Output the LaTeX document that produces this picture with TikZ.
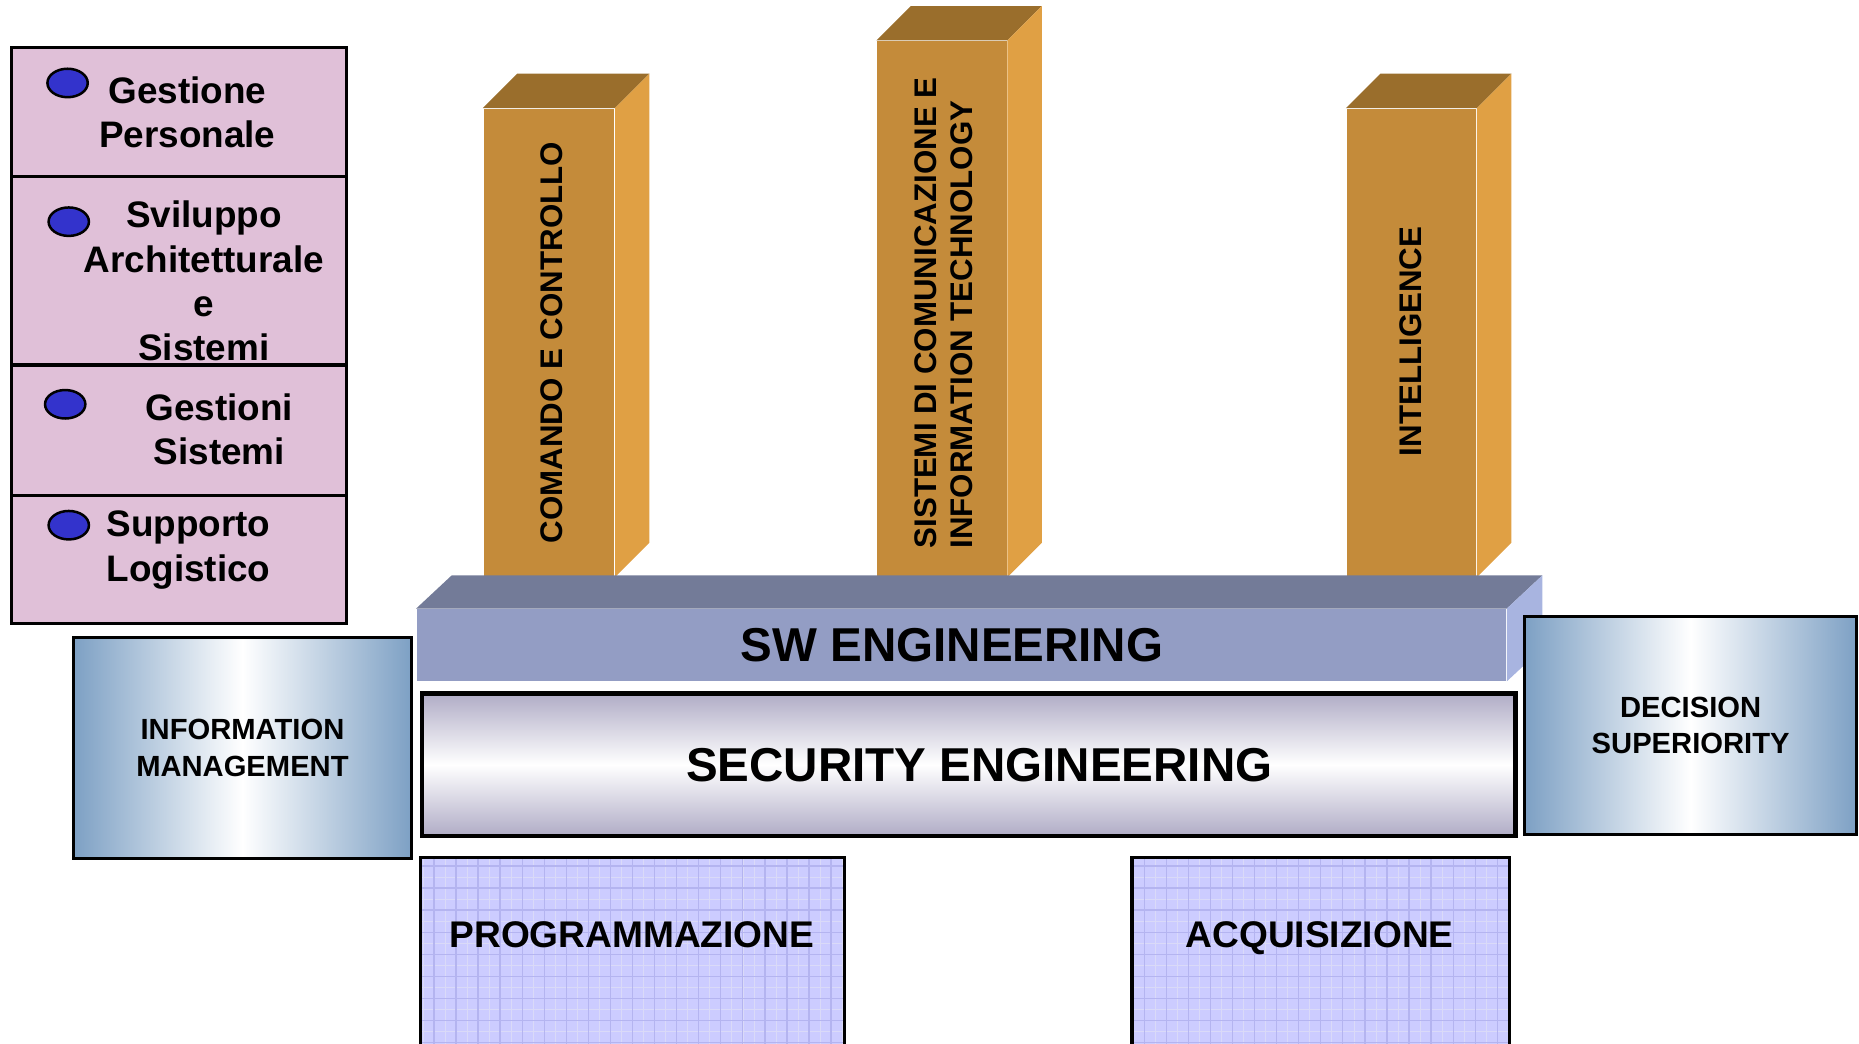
\documentclass[tikz,border=0pt]{standalone}
\usepackage{fontspec}
\setmainfont{Liberation Sans}
\usepackage{tikz}
\usetikzlibrary{shapes.geometric, positioning, calc}
\definecolor{panelpink}{RGB}{224,192,216}
\definecolor{bulletblue}{RGB}{51,51,204}
\definecolor{pillarfront}{RGB}{196,139,58}
\definecolor{pillartop}{RGB}{154,110,44}
\definecolor{pillarside}{RGB}{224,160,68}
\definecolor{slabfront}{RGB}{147,157,196}
\definecolor{slabtop}{RGB}{115,123,152}
\definecolor{slabside}{RGB}{168,180,224}
\definecolor{steel}{RGB}{125,160,196}
\definecolor{secgray}{RGB}{176,172,198}
\definecolor{gridfill}{RGB}{204,204,255}
\definecolor{gridline}{RGB}{180,180,240}
\tikzstyle{panel} = [rectangle, minimum width=2.82cm, draw=black, line width=0.8pt, fill=panelpink, inner sep=0pt]
\tikzstyle{bullet} = [ellipse, minimum width=0.34cm, minimum height=0.24cm, draw=black, line width=0.6pt, fill=bulletblue, inner sep=0pt]
\tikzstyle{paneltext} = [align=center, inner sep=0pt, font=\fontsize{8.85}{10.6}\selectfont\bfseries]
\tikzstyle{pillar} = [rectangle, minimum width=1.1cm, fill=pillarfront, inner sep=0pt]
\tikzstyle{pillartext} = [rotate=90, align=left, inner sep=0pt, font=\fontsize{7.5}{8.8}\selectfont\bfseries]
\tikzstyle{slab} = [rectangle, minimum width=9.18cm, minimum height=0.6cm, fill=slabfront, inner sep=0pt]
\tikzstyle{bigtext} = [inner sep=0pt, font=\fontsize{11.4}{13}\selectfont\bfseries]
\tikzstyle{secbox} = [rectangle, minimum width=9.22cm, minimum height=1.2cm, draw=black, line width=1pt, top color=secgray, bottom color=secgray, middle color=white, inner sep=0pt]
\tikzstyle{bluebox} = [rectangle, draw=black, line width=0.8pt, left color=steel, right color=steel, middle color=white, align=center, inner sep=0pt, font=\fontsize{7}{8.8}\selectfont\bfseries]
\tikzstyle{gridbox} = [rectangle, draw=black, line width=0.8pt, fill=gridfill, inner sep=0pt, path picture={
  \draw[gridline!50, line width=0.15pt] (path picture bounding box.south west) grid[step=0.093cm] (path picture bounding box.north east);
  \draw[gridline, line width=0.3pt] (path picture bounding box.south west) grid[step=0.186cm] (path picture bounding box.north east);}]
\tikzstyle{boxtext} = [inner sep=0pt, anchor=base, font=\fontsize{8.9}{10}\selectfont\bfseries]

\begin{document}
\begin{tikzpicture}[x=0.01cm, y=-0.01cm]
\useasboundingbox (0,0) rectangle (1568,880);
\clip (0,0) rectangle (1568,880);

% left panel
\node (pers) [panel, minimum height=1.09cm] at (151,94.5) {};
\node (svil) [panel, minimum height=1.59cm] at (151,228.5) {};
\node (gest) [panel, minimum height=1.10cm] at (151,363) {};
\node (supp) [panel, minimum height=1.08cm] at (151,472) {};
\node (bpers) [bullet] at (57,70) {};
\node (bsvil) [bullet] at (58,187) {};
\node (bgest) [bullet] at (55,341) {};
\node (bsupp) [bullet] at (58,443) {};
\node (tpers) [paneltext] at (158,95) {Gestione\\Personale};
\node (tsvil) [paneltext] at (172,237) {Sviluppo\\Architetturale\\e\\Sistemi};
\node (tgest) [paneltext] at (185,362) {Gestioni\\Sistemi};
\node (tsupp) [paneltext] at (159,464) {Supporto\\Logistico};

% pillars
\node (cc) [pillar, minimum height=3.94cm] at (463,289) {};
\node (sci) [pillar, minimum width=1.09cm, minimum height=4.51cm] at (794.5,260.5) {};
\node (intel) [pillar, minimum width=1.09cm, minimum height=3.94cm] at (1190.5,289) {};
\foreach \p in {cc, sci, intel} {
  \fill [pillartop] (\p.north west) -- ++(29,-29) -- ([shift={(29,-29)}]\p.north east) -- (\p.north east) -- cycle;
  \fill [pillarside] (\p.north east) -- ++(29,-29) -- ([shift={(29,-29)}]\p.south east) -- (\p.south east) -- cycle;
}
\node (tcc) [pillartext] at (465,289) {COMANDO E CONTROLLO};
\node (tsci) [pillartext] at (796,264) {SISTEMI DI COMUNICAZIONE E\\INFORMATION TECHNOLOGY};
\node (tintel) [pillartext] at (1190,288) {INTELLIGENCE};

% sw engineering slab
\node (sw) [slab] at (811,544) {};
\fill [slabtop] (sw.north west) -- ++(30,-28) -- ([shift={(30,-28)}]sw.north east) -- (sw.north east) -- cycle;
\fill [slabside] (sw.north east) -- ++(30,-28) -- ([shift={(30,-28)}]sw.south east) -- (sw.south east) -- cycle;
\node (tsw) [bigtext] at (803,544) {SW ENGINEERING};

% security engineering
\node (sec) [secbox] at (817,645) {};
\node (tsec) [bigtext] at (826,645) {SECURITY ENGINEERING};

% side boxes
\node (info) [bluebox, minimum width=2.85cm, minimum height=1.86cm] at (204.5,631) {INFORMATION\\MANAGEMENT};
\node (dec) [bluebox, minimum width=2.80cm, minimum height=1.84cm] at (1426,612) {DECISION\\SUPERIORITY};

% bottom boxes
\node (prog) [gridbox, minimum width=3.57cm, minimum height=2.0cm, anchor=north] at (533.5,722) {};
\node (acq) [gridbox, minimum width=3.18cm, minimum height=2.0cm, anchor=north] at (1114,722) {};
\node (tprog) [boxtext] at (533,799) {PROGRAMMAZIONE};
\node (tacq) [boxtext] at (1113,799) {ACQUISIZIONE};

\end{tikzpicture}
\end{document}
